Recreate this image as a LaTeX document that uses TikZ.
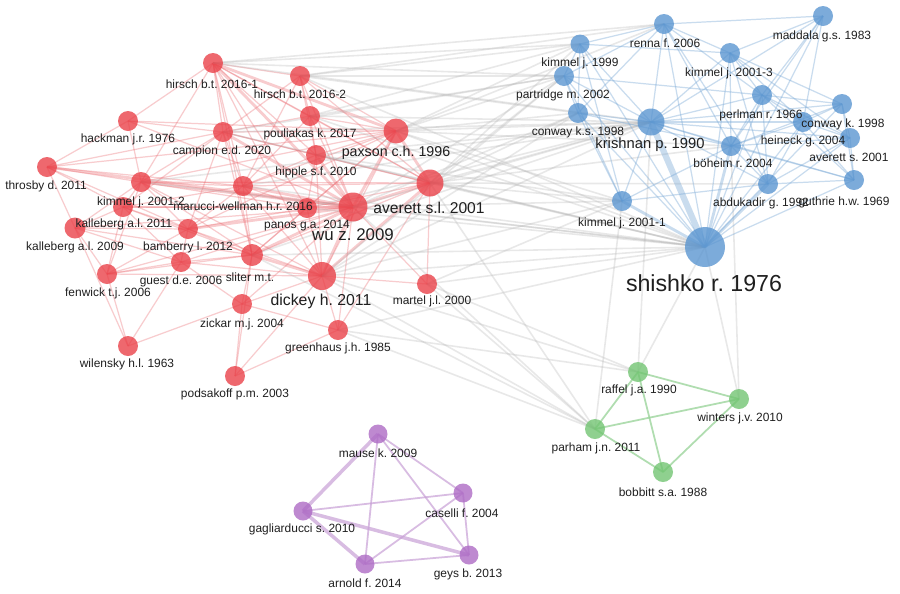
\documentclass[tikz,border=0pt]{standalone}
\usepackage{fontspec}
\setmainfont{Liberation Sans}
\usetikzlibrary{backgrounds}
\frenchspacing
\definecolor{redc}{RGB}{234,62,70}
\definecolor{bluec}{RGB}{88,148,208}
\definecolor{greenc}{RGB}{112,196,112}
\definecolor{purpc}{RGB}{172,104,196}
\definecolor{redl}{RGB}{236,110,116}
\definecolor{bluel}{RGB}{120,168,214}
\definecolor{grayl}{RGB}{180,180,180}
\definecolor{greenl}{RGB}{150,210,150}
\definecolor{purpl}{RGB}{200,160,214}
\tikzset{
  dot/.style={circle,inner sep=0pt,minimum size=#1,fill opacity=.78},
  rd/.style={dot=#1,fill=redc}, rd/.default=0.4cm,
  bl/.style={dot=#1,fill=bluec}, bl/.default=0.4cm,
  gr/.style={dot=#1,fill=greenc}, gr/.default=0.4cm,
  pu/.style={dot=#1,fill=purpc}, pu/.default=0.38cm,
  lab/.style={font=\fontsize{#1}{#1}\selectfont,inner sep=0pt,text=black!88},
  lab/.default=6.8,
  redln/.style={draw=redl,draw opacity=.35,line width=#1}, redln/.default=0.7pt,
  blueln/.style={draw=bluel,draw opacity=.4,line width=#1}, blueln/.default=0.7pt,
  grayln/.style={draw=grayl,draw opacity=.3,line width=0.9pt},
  greenln/.style={draw=greenl,draw opacity=.75,line width=1pt},
  purpln/.style={draw=purpl,draw opacity=.7,line width=#1}, purpln/.default=1pt
}
\begin{document}
\begin{tikzpicture}[x=0.02cm,y=-0.02cm]
\useasboundingbox (0,0) rectangle (900,593);

\node[rd] (hirA) at (213,63) {};
\node[rd] (hirB) at (300,76) {};
\node[rd] (hack) at (128,121) {};
\node[rd] (camp) at (223,132) {};
\node[rd] (poul) at (310,116) {};
\node[rd=0.5cm] (pax) at (396,131) {};
\node[rd] (hip) at (316,155) {};
\node[rd] (thr) at (47,167) {};
\node[rd] (kimB) at (141,182) {};
\node[rd] (maru) at (243,186) {};
\node[rd=0.54cm] (ave) at (430,183) {};
\node[rd] (kalA) at (123,207) {};
\node[rd=0.42cm] (kalB) at (75,228) {};
\node[rd] (pan) at (307,208) {};
\node[rd=0.58cm] (wu) at (353,207) {};
\node[rd] (bam) at (188,229) {};
\node[rd] (gue) at (181,262) {};
\node[rd=0.44cm] (sli) at (252,255) {};
\node[rd] (fen) at (107,274) {};
\node[rd=0.56cm] (dic) at (322,276) {};
\node[rd] (mar) at (427,284) {};
\node[rd] (zic) at (242,304) {};
\node[rd] (gre) at (338,330) {};
\node[rd] (wil) at (128,346) {};
\node[rd] (pod) at (235,376) {};

\node[bl] (ren) at (664,24) {};
\node[bl] (mad) at (823,16) {};
\node[bl=0.38cm] (kim99) at (580,44) {};
\node[bl] (kim3) at (730,53) {};
\node[bl] (par) at (564,76) {};
\node[bl] (per) at (762,95) {};
\node[bl] (conks) at (578,113) {};
\node[bl=0.54cm] (kri) at (651,122) {};
\node[bl] (conk) at (842,104) {};
\node[bl] (hei) at (803,122) {};
\node[bl] (avs) at (850,138) {};
\node[bl] (boh) at (731,146) {};
\node[bl] (abd) at (768,184) {};
\node[bl] (gut) at (854,180) {};
\node[bl] (kim1) at (622,201) {};
\node[bl=0.8cm] (shi) at (705,247) {};

\node[gr] (ra) at (638,372) {};
\node[gr] (win) at (739,399) {};
\node[gr] (pa) at (595,429) {};
\node[gr] (bob) at (663,472) {};

\node[pu] (mau) at (378,434) {};
\node[pu] (cas) at (463,493) {};
\node[pu] (gag) at (303,511) {};
\node[pu] (arn) at (365,564) {};
\node[pu] (gey) at (469,555) {};

\begin{scope}[on background layer]
\fill[white] (0,0) rectangle (900,593);
\foreach \a/\b in {hirA/hirB,hirA/camp,hirA/hack,hirA/kimB,hirA/maru,hirA/pan,hirA/dic,hirA/sli,hirA/hip,hirA/poul,hirA/ave,
  hirB/pax,hirB/poul,hirB/camp,hirB/wu,hirB/ave,hirB/hip,hirB/maru,
  hack/camp,hack/thr,hack/kimB,hack/wu,hack/pax,
  camp/poul,camp/pax,camp/hip,camp/kimB,camp/maru,camp/kalA,camp/bam,camp/ave,camp/thr,camp/sli,
  poul/pax,poul/hip,poul/wu,poul/ave,poul/maru,
  pax/hip,pax/maru,pax/pan,pax/dic,pax/kimB,pax/sli,pax/bam,pax/thr,
  hip/ave,hip/maru,hip/pan,hip/dic,
  thr/kimB,thr/kalB,thr/kalA,thr/maru,thr/bam,
  kimB/maru,kimB/kalA,kimB/ave,kimB/pan,kimB/bam,kimB/sli,kimB/dic,kimB/fen,kimB/kalB,
  maru/pan,maru/ave,maru/bam,maru/sli,maru/dic,maru/kalA,
  ave/pan,ave/mar,ave/sli,ave/gre,
  kalA/kalB,kalA/bam,kalA/sli,kalA/pan,kalA/fen,kalA/gue,
  kalB/fen,kalB/bam,kalB/wu,kalB/sli,kalB/gue,kalB/wil,
  pan/dic,pan/sli,pan/bam,
  wu/gue,wu/fen,wu/zic,wu/mar,wu/gre,
  bam/sli,bam/gue,bam/fen,bam/dic,
  gue/sli,gue/fen,gue/dic,gue/zic,gue/wil,
  sli/zic,sli/pod,fen/wil,fen/sli,fen/dic,
  dic/zic,dic/gre,dic/mar,dic/pod,
  zic/pod,zic/gre,zic/wil,gre/pod}
  \draw[redln] (\a.center) -- (\b.center);
\foreach \a/\b in {wu/ave,wu/pax,wu/dic,ave/dic,pax/ave,wu/maru,wu/kimB,wu/bam,wu/sli,wu/hip,wu/pan,wu/kalA,wu/camp,wu/hirA,wu/thr,sli/dic,hirA/pax}
  \draw[redln=1.6pt] (\a.center) -- (\b.center);

\foreach \a/\b in {pax/kim99,pax/par,pax/conks,pax/kri,pax/shi,pax/kim1,pax/boh,pax/ren,
  ave/kri,ave/shi,ave/kim1,ave/par,ave/conks,ave/kim99,ave/boh,ave/abd,
  wu/shi,wu/kri,wu/kim1,wu/conks,wu/par,
  dic/shi,dic/kri,dic/kim1,dic/par,dic/conks,dic/ra,dic/pa,
  hirA/kim99,hirA/par,hirA/kri,hirA/ren,
  hirB/kim99,hirB/par,hirB/conks,hirB/shi,hirB/ren,
  poul/par,poul/kri,poul/shi,poul/kim99,
  hip/kri,hip/shi,hip/kim1,
  mar/shi,mar/kim1,mar/pa,mar/ra,
  sli/shi,sli/kri,pan/shi,pan/kri,maru/shi,maru/kri,kimB/shi,kimB/kri,camp/shi,camp/kri,camp/par,
  ave/pa,wu/pa,gre/ra,gre/pa,gre/shi,sli/pa,
  shi/ra,kim1/pa,boh/win,shi/win,kri/ra}
  \draw[grayln] (\a.center) -- (\b.center);

\foreach \a/\b in {shi/ren,shi/mad,shi/kim99,shi/kim3,shi/par,shi/per,shi/conks,shi/conk,shi/hei,shi/avs,shi/gut,
  kri/ren,kri/kim99,kri/kim3,kri/par,kri/per,kri/conks,kri/conk,kri/hei,kri/avs,kri/boh,kri/abd,kri/gut,kri/kim1,kri/mad,
  ren/kim99,ren/kim3,ren/par,ren/conks,ren/boh,ren/per,ren/abd,ren/mad,
  mad/kim3,mad/per,mad/hei,mad/boh,
  kim99/par,kim99/conks,kim99/kim3,kim99/kim1,
  kim3/per,kim3/conk,kim3/hei,kim3/boh,kim3/avs,kim3/abd,
  par/conks,par/kim1,par/per,
  per/conk,per/hei,per/boh,per/avs,per/abd,per/gut,
  conks/kim1,conks/boh,
  conk/hei,conk/avs,conk/gut,conk/boh,
  hei/avs,hei/boh,hei/abd,hei/gut,
  avs/gut,avs/abd,avs/boh,
  boh/abd,boh/gut,boh/kim1,abd/gut,abd/kim1}
  \draw[blueln] (\a.center) -- (\b.center);
\foreach \a/\b in {boh/shi,kim1/shi,abd/shi}
  \draw[blueln=1.6pt] (\a.center) -- (\b.center);
\draw[blueln=3.5pt] (kri.center) -- (shi.center);

\foreach \a/\b in {ra/win,ra/pa,ra/bob,pa/win,pa/bob,bob/win}
  \draw[greenln] (\a.center) -- (\b.center);

\foreach \a/\b in {mau/arn,mau/cas,mau/gey,gag/cas,arn/gey,arn/cas,cas/gey}
  \draw[purpln] (\a.center) -- (\b.center);
\foreach \a/\b in {mau/gag,gag/gey,gag/arn}
  \draw[purpln=2pt] (\a.center) -- (\b.center);
\end{scope}

\node[lab] (hirAl) at (212,84) {hirsch b.t. 2016-1};
\node[lab] (hirBl) at (300,94) {hirsch b.t. 2016-2};
\node[lab] (hackl) at (128,139) {hackman j.r. 1976};
\node[lab] (campl) at (222,151) {campion e.d. 2020};
\node[lab] (poull) at (310,134) {pouliakas k. 2017};
\node[lab=8.1] (paxl) at (396,153) {paxson c.h. 1996};
\node[lab] (hipl) at (316,172) {hipple s.f. 2010};
\node[lab] (thrl) at (46,186) {throsby d. 2011};
\node[lab] (kimBl) at (141,202) {kimmel j. 2001-2};
\node[lab] (marul) at (243,206) {marucci-wellman h.r. 2016};
\node[lab=8.9] (avel) at (429,208) {averett s.l. 2001};
\node[lab] (kalAl) at (124,224) {kalleberg a.l. 2011};
\node[lab] (kalBl) at (75,247) {kalleberg a.l. 2009};
\node[lab] (panl) at (307,226) {panos g.a. 2014};
\node[lab=9.6] (wul) at (353,235) {wu z. 2009};
\node[lab] (baml) at (188,247) {bamberry l. 2012};
\node[lab] (guel) at (181,281) {guest d.e. 2006};
\node[lab] (slil) at (250,277) {sliter m.t.};
\node[lab] (fenl) at (108,293) {fenwick t.j. 2006};
\node[lab=9] (dicl) at (321,301) {dickey h. 2011};
\node[lab] (marl) at (432,301) {martel j.l. 2000};
\node[lab] (zicl) at (242,324) {zickar m.j. 2004};
\node[lab] (grel) at (338,348) {greenhaus j.h. 1985};
\node[lab] (will) at (127,364) {wilensky h.l. 1963};
\node[lab] (podl) at (235,394) {podsakoff p.m. 2003};

\node[lab] (renl) at (665,43) {renna f. 2006};
\node[lab] (madl) at (822,36) {maddala g.s. 1983};
\node[lab] (kim99l) at (580,63) {kimmel j. 1999};
\node[lab] (kim3l) at (729,73) {kimmel j. 2001-3};
\node[lab] (parl) at (563,95) {partridge m. 2002};
\node[lab] (perl) at (761,115) {perlman r. 1966};
\node[lab] (conksl) at (578,132) {conway k.s. 1998};
\node[lab=8.4] (kril) at (650,145) {krishnan p. 1990};
\node[lab] (conkl) at (843,124) {conway k. 1998};
\node[lab] (heil) at (803,141) {heineck g. 2004};
\node[lab] (avsl) at (849,157) {averett s. 2001};
\node[lab] (bohl) at (733,163) {böheim r. 2004};
\node[lab] (abdl) at (761,203) {abdukadir g. 1992};
\node[lab] (gutl) at (844,202) {guthrie h.w. 1969};
\node[lab] (kim1l) at (622,223) {kimmel j. 2001-1};
\node[lab=13.2] (shil) at (704,283) {shishko r. 1976};

\node[lab] (ral) at (639,390) {raffel j.a. 1990};
\node[lab] (winl) at (740,418) {winters j.v. 2010};
\node[lab] (pal) at (596,448) {parham j.n. 2011};
\node[lab] (bobl) at (663,492) {bobbitt s.a. 1988};

\node[lab] (maul) at (378,453) {mause k. 2009};
\node[lab] (casl) at (462,513) {caselli f. 2004};
\node[lab] (gagl) at (302,529) {gagliarducci s. 2010};
\node[lab] (arnl) at (365,583) {arnold f. 2014};
\node[lab] (geyl) at (468,574) {geys b. 2013};
\end{tikzpicture}
\end{document}
